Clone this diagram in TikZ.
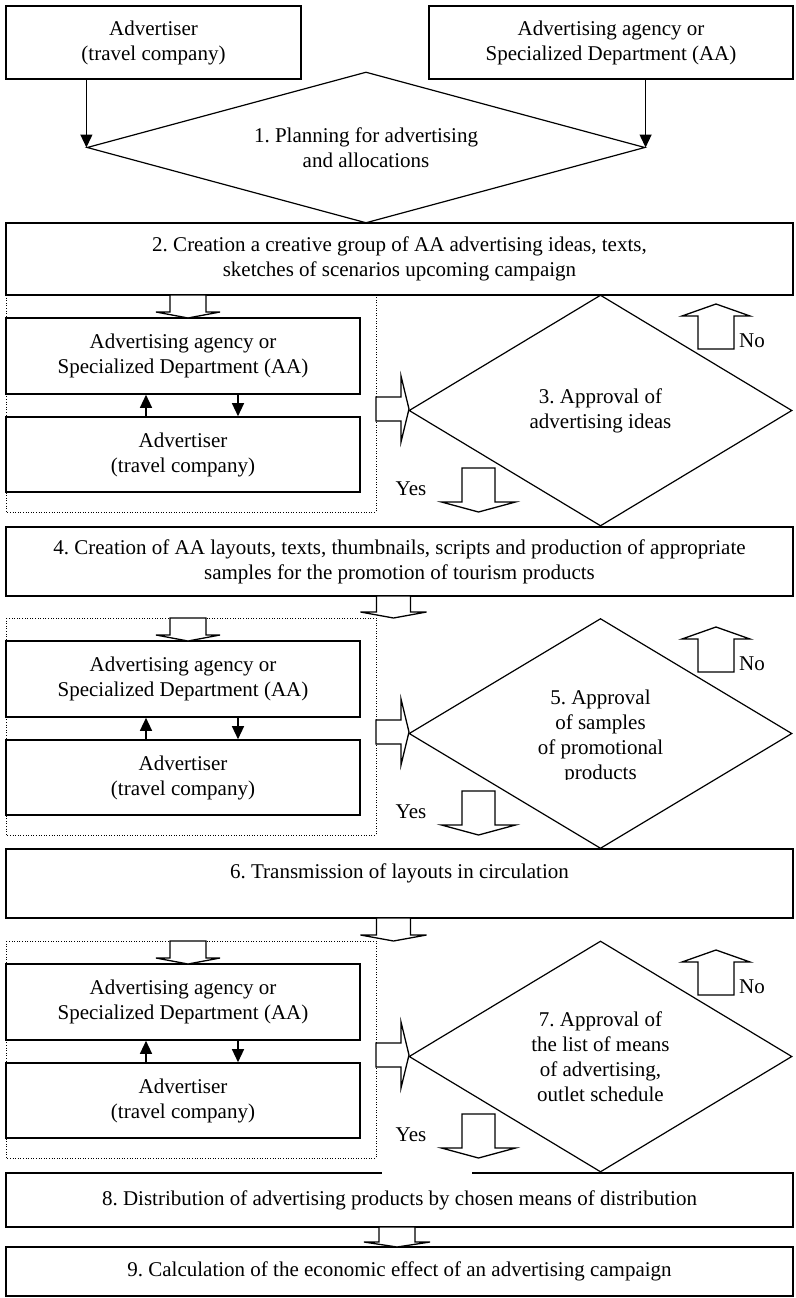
\documentclass[tikz,border=0pt]{standalone}
\usepackage{fontspec}
\setmainfont{Liberation Serif}
\usetikzlibrary{shapes.geometric,arrows.meta}

\tikzset{
  box/.style={draw, line width=1.6pt, align=center, inner sep=0pt},
  decision/.style={diamond, draw, line width=1.2pt, align=center, inner sep=0pt},
  group/.style={line width=0.9pt, dash pattern=on 1pt off 1.6pt},
  blockarrow/.style={draw, fill=white, line width=1.3pt, line join=miter},
  thinarrow/.style={line width=1.3pt, -{Triangle[length=13pt,width=12pt]}}
}

% hollow arrows: centre, tail, head base, tip, shaft half width, head half width
\newcommand{\blockv}[6]{%
  \draw[blockarrow] (#1-#5,#2) -- (#1-#5,#3) -- (#1-#6,#3) -- (#1,#4)
    -- (#1+#6,#3) -- (#1+#5,#3) -- (#1+#5,#2) -- cycle;}
\newcommand{\blockh}[6]{%
  \draw[blockarrow] (#2,#1-#5) -- (#3,#1-#5) -- (#3,#1-#6) -- (#4,#1)
    -- (#3,#1+#6) -- (#3,#1+#5) -- (#2,#1+#5) -- cycle;}

\begin{document}
\frenchspacing
\begin{tikzpicture}[x=1pt,y=-1pt,
  every node/.style={font=\fontsize{21}{25}\selectfont}]

  \useasboundingbox (0,0) rectangle (795,1298);

  % top row
  \node[box, minimum width=295pt, minimum height=73pt] (adv0) at (153.5,42.5)
    {Advertiser\\(travel company)};
  \node[box, minimum width=364pt, minimum height=73pt] (aa0) at (611,42.5)
    {Advertising agency or\\Specialized Department (AA)};
  \node[decision, aspect=3.7, minimum width=558pt, minimum height=151pt] (d1) at (366,147.5)
    {1. Planning for advertising\\and allocations};
  \draw[thinarrow] (adv0.south -| d1.west) -- (d1.west);
  \draw[thinarrow] (aa0.south -| d1.east) -- (d1.east);

  % main steps
  \node[box, minimum width=787pt, minimum height=72pt] (step2) at (399.5,259)
    {2. Creation a creative group of AA advertising ideas, texts,\\sketches of scenarios upcoming campaign};
  \node[box, minimum width=787pt, minimum height=69pt] (step4) at (399.5,561.5)
    {4. Creation of AA layouts, texts, thumbnails, scripts and production of appropriate\\samples for the promotion of tourism products};
  \node[box, minimum width=787pt, minimum height=69pt] (step6) at (399.5,883.5)
    {6. Transmission of layouts in circulation\\\mbox{}};
  \node[box, minimum width=787pt, minimum height=54pt] (step8) at (399.5,1200)
    {8. Distribution of advertising products by chosen means of distribution};
  \node[box, minimum width=787pt, minimum height=49pt] (step9) at (399.5,1271.5)
    {9. Calculation of the economic effect of an advertising campaign};

  % approval loops
  \foreach \i/\dy in {1/0,2/323,3/646} {
    \draw[group] (6,295+\dy) rectangle (376,512+\dy);
    \node[box, minimum width=354pt, minimum height=76pt] (aa\i) at (183,356+\dy)
      {Advertising agency or\\Specialized Department (AA)};
    \node[box, minimum width=354pt, minimum height=75pt] (adv\i) at (183,454.5+\dy)
      {Advertiser\\(travel company)};
    \draw[thinarrow] ([xshift=-37pt]adv\i.north) -- ([xshift=-37pt]aa\i.south);
    \draw[thinarrow] ([xshift=55pt]aa\i.south) -- ([xshift=55pt]adv\i.north);
    \blockv{188}{295+\dy}{312+\dy}{318+\dy}{18}{32}
    \blockh{409+\dy}{376}{401}{409}{12}{33}
    \blockv{716}{349+\dy}{316+\dy}{304+\dy}{18}{34}
    \blockv{478.5}{468+\dy}{502+\dy}{512+\dy}{16.5}{37}
    \node (no\i) at (752,341+\dy) {No};
    \node (yes\i) at (411,489+\dy) {Yes};
  }

  % arrows between steps
  \blockv{393.5}{596}{612}{618}{17}{33}
  \blockv{393.5}{918}{935}{941}{17}{33}
  \blockv{397}{1227}{1242}{1247}{18}{33}
  \draw[white, line width=2.4pt] (382,1173) -- (472,1173);

  % decisions
  \node[decision, aspect=1.66, minimum width=383pt, minimum height=231pt] (d3) at (600.5,410.5)
    {3. Approval of\\advertising ideas};
  \node[decision, aspect=1.66, minimum width=383pt, minimum height=230pt] (d5) at (600.5,733.5) {};
  \begin{scope}
    \clip (440,660) rectangle (760,779);
    \node[align=center] (txt5) at (600.5,737)
      {5. Approval\\of samples\\of promotional\\products};
  \end{scope}
  \node[decision, aspect=1.66, minimum width=383pt, minimum height=231pt] (d7) at (600.5,1056.5)
    {7. Approval of\\the list of means\\of advertising,\\outlet schedule};

\end{tikzpicture}
\end{document}
